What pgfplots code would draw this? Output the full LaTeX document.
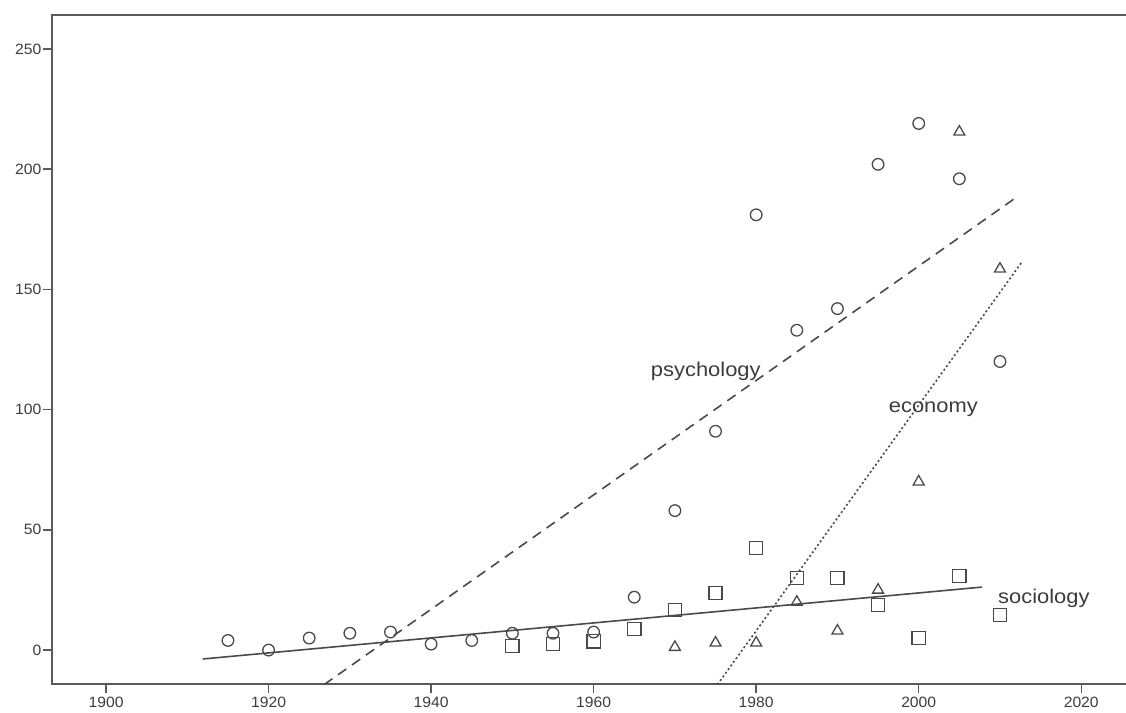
\documentclass[border=0pt]{standalone}
\usepackage{fontspec}
\setmainfont{Liberation Sans}
\usepackage{pgfplots}
\pgfplotsset{compat=1.18}
\definecolor{ax}{HTML}{5A5A5A}
\definecolor{mk}{HTML}{4A4A4A}
\definecolor{tx}{HTML}{3C3C3C}
\begin{document}
\begin{tikzpicture}
\begin{axis}[
  width=1078bp, height=669bp, scale only axis,
  xmin=1893.35, xmax=2026.0, ymin=-14.1, ymax=264.1,
  axis line style={ax, line width=1.6bp},
  xtick={1900,1920,...,2020}, ytick={0,50,...,250},
  tick align=outside, major tick length=9bp,
  tick style={ax, line width=1.4bp},
  xtick pos=bottom, ytick pos=left,
  /pgf/number format/assume math mode=true,
  /pgf/number format/set thousands separator={},
  xticklabel style={font=\fontsize{15}{17}\selectfont, text=tx, xscale=1.05, yshift=-1bp},
  yticklabel style={font=\fontsize{15}{17}\selectfont, text=tx, xscale=1.05, xshift=2bp},
  clip=true,
]
% psychology (circles)
\addplot[only marks, mark=o, mark size=5.8bp, mark options={draw=mk, line width=1.3bp}] coordinates {
(1915,4) (1920,0) (1925,5) (1930,7) (1935,7.5) (1940,2.5) (1945,4) (1950,7) (1955,7) (1960,7.5)
(1965,22) (1970,58) (1975,91) (1980,181) (1985,133) (1990,142) (1995,202) (2000,219) (2005,196) (2010,120)};
% sociology (squares)
\addplot[only marks, mark=square, mark size=6.6bp, mark options={draw=mk, line width=1.3bp}] coordinates {
(1950,1.8) (1955,2.5) (1960,3.6) (1965,8.7) (1970,16.6) (1975,23.7) (1980,42.5) (1985,30) (1990,30)
(1995,18.7) (2000,5) (2005,30.8) (2010,14.6)};
% economy (triangles)
\addplot[only marks, mark=triangle, mark size=6.3bp, mark options={draw=mk, line width=1.3bp}] coordinates {
(1970,1.2) (1975,3) (1980,3) (1985,20) (1990,8) (1995,25) (2000,70) (2005,215.5) (2010,158.5)};
% fit lines
\addplot[mk, line width=1.6bp, dash pattern=on 10bp off 7bp] coordinates {(1920,-30.6) (2011.9,188)};
\addplot[mk, line width=1.6bp, dash pattern=on 2bp off 2.5bp] coordinates {(1972,-29.5) (2012.7,161.4)};
\addplot[mk, line width=1.6bp] coordinates {(1911.9,-3.7) (2007.8,26.2)};
\node[text=tx, font=\fontsize{20}{23}\selectfont, xscale=1.1] at (axis cs:1973.8,116) {psychology};
\node[text=tx, font=\fontsize{20}{23}\selectfont, xscale=1.1] at (axis cs:2001.8,100) {economy};
\node[text=tx, font=\fontsize{20}{23}\selectfont, xscale=1.1] at (axis cs:2015.4,21.6) {sociology};
\end{axis}
\pgfresetboundingbox
\path (-52bp,-29bp) rectangle (1074bp,684bp);
\end{tikzpicture}
\end{document}
